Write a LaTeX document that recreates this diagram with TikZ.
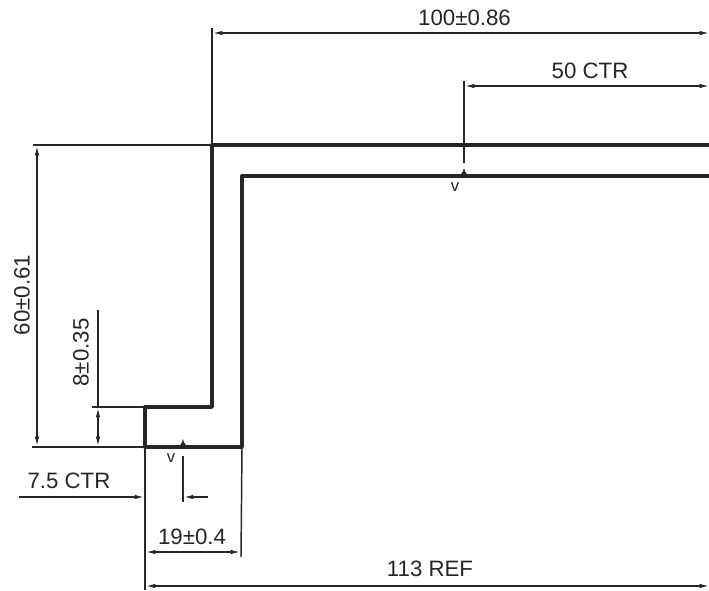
\documentclass[tikz,border=0pt]{standalone}
\usepackage{fontspec}
\setmainfont{Liberation Sans}
\usetikzlibrary{arrows.meta}
\tikzset{
  part/.style={line width=2.5pt,line cap=round,line join=round,color=black!85},
  ext/.style={line width=1.1pt,color=black!85},
  dim/.style={line width=1pt,color=black!85,{Latex[length=7pt,width=3.4pt]}-{Latex[length=7pt,width=3.4pt]}},
  dimend/.style={line width=1pt,color=black!85,-{Latex[length=7pt,width=3.4pt]}},
  lab/.style={inner sep=0pt,text=black!85,font=\fontsize{16.7}{18}\selectfont},
  vmark/.style={inner sep=0pt,text=black!85,font=\fontsize{12.5}{14}\selectfont},
  peak/.style={fill=black!85,draw=none}
}
\begin{document}
\begin{tikzpicture}[x=0.75pt,y=-0.75pt]
\useasboundingbox (0,0) rectangle (709,590);
% profile corners
\coordinate (tr) at (709,145);
\coordinate (tl) at (212,145);
\coordinate (sr) at (212,407);
\coordinate (sl) at (145,407);
\coordinate (bl) at (145,447);
\coordinate (br) at (242,447);
\coordinate (il) at (242,176);
\coordinate (ir) at (709,176);
\draw[part] (tr) -- (tl) -- (sr) -- (sl) -- (bl) -- (br) -- (il) -- (ir);
% extension lines
\coordinate (e60t) at (33,145);
\coordinate (e60b) at (32,447);
\coordinate (e8) at (92,407);
\coordinate (e100) at (212,28);
\coordinate (e50t) at (464,81);
\coordinate (e50b) at (464,163);
\coordinate (ebl) at (145,590);
\coordinate (ebr) at (241,557);
\draw[ext] (e60t) -- (tl);
\draw[ext] (e60b) -- (bl);
\draw[ext] (e8) -- (sl);
\draw[ext] (e100) -- (tl);
\draw[ext] (e50t) -- (e50b);
\draw[ext] (bl) -- (ebl);
\draw[ext] (br) -- (ebr);
% centre marks
\fill[peak] (456,177) .. controls (461,175) and (463,173) .. (464,168) .. controls (465,173) and (467,175) .. (472,177) -- cycle;
\fill[peak] (175,448) .. controls (180,446) and (182,444) .. (183,439) .. controls (184,444) and (186,446) .. (191,448) -- cycle;
\coordinate (c1) at (183,456);
\coordinate (c2) at (183,502);
\draw[ext] (c1) -- (c2);
% dimensions
\coordinate (d100a) at (213,33);
\coordinate (d100b) at (709,33);
\draw[dim] (d100a) -- (d100b);
\coordinate (d50a) at (465,86);
\coordinate (d50b) at (709,86);
\draw[dim] (d50a) -- (d50b);
\coordinate (d60a) at (37,146);
\coordinate (d60b) at (37,446);
\draw[dim] (d60a) -- (d60b);
\coordinate (d8a) at (98,408);
\coordinate (d8b) at (98,446);
\coordinate (d8c) at (98,310);
\draw[dim] (d8a) -- (d8b);
\draw[ext] (d8c) -- (d8a);
\coordinate (d19a) at (146,552);
\coordinate (d19b) at (240,552);
\draw[dim] (d19a) -- (d19b);
\coordinate (d113a) at (146,586);
\coordinate (d113b) at (709,586);
\draw[dim] (d113a) -- (d113b);
\coordinate (d75a) at (19,497);
\coordinate (d75b) at (144,497);
\draw[dimend] (d75a) -- (d75b);
\coordinate (d75c) at (208,497);
\coordinate (d75d) at (184,497);
\draw[dimend] (d75c) -- (d75d);
% labels
\node[lab] (t100) at (464.5,18) {100±0.86};
\node[lab] (t50) at (590,70.5) {50 CTR};
\node[lab,rotate=90] (t60) at (22,295) {60±0.61};
\node[lab,rotate=90] (t8) at (81,352.5) {8±0.35};
\node[lab] (t75) at (69,481) {7.5 CTR};
\node[lab] (t19) at (192,537) {19±0.4};
\node[lab] (t113) at (430,569) {113 REF};
\node[vmark] (v1) at (455,187) {v};
\node[vmark] (v2) at (171,458) {v};
\end{tikzpicture}
\end{document}
